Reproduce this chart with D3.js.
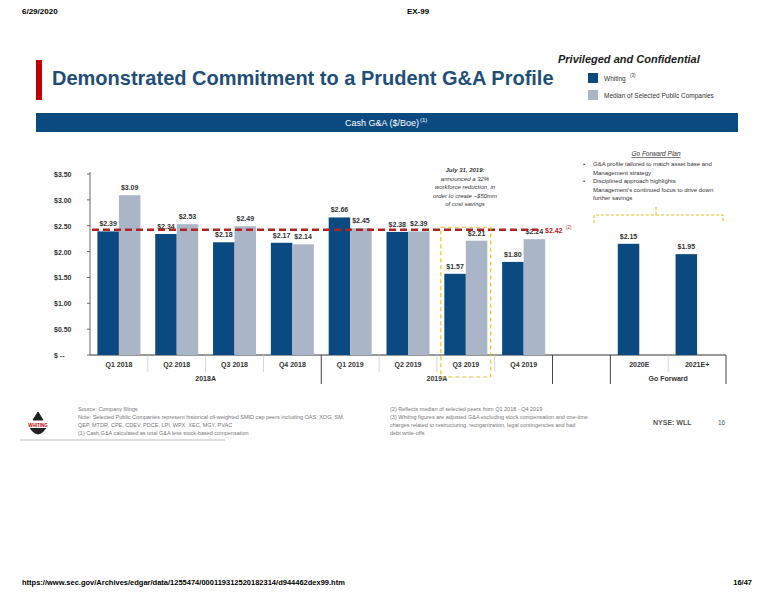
<!DOCTYPE html>
<html><head><meta charset="utf-8">
<script src="https://cdn.jsdelivr.net/npm/d3@7/dist/d3.min.js"></script>
<style>body{margin:0;background:#fff;font-family:Arial,"Liberation Sans",sans-serif}</style>
</head><body><svg id="c" width="776" height="600"></svg>
<script>
const categories=["Q1 2018","Q2 2018","Q3 2018","Q4 2018","Q1 2019","Q2 2019","Q3 2019","Q4 2019","","2020E","2021E+"];
const whiting=[2.39,2.34,2.18,2.17,2.66,2.38,1.57,1.80,null,2.15,1.95];
const peers=[3.09,2.53,2.49,2.14,2.45,2.39,2.21,2.24,null,null,null];
const whitingLabels=["$2.39","$2.34","$2.18","$2.17","$2.66","$2.38","$1.57","$1.80","","$2.15","$1.95"];
const yTicks=[0,0.5,1,1.5,2,2.5,3,3.5];
const yTickLabels=["$ --","$0.50","$1.00","$1.50","$2.00","$2.50","$3.00","$3.50"];
const median=2.42;
const groups=[{name:"2018A",from:0,to:3},{name:"2019A",from:4,to:7},{name:"Go Forward",from:9,to:10}];

const svg=d3.select("#c");
const navy="#0b4a80", grey="#aab6c8", red="#b22222";
const t=(x,y,s,o={})=>{const e=svg.append("text").attr("x",x).attr("y",y).text(s)
 .attr("font-size",o.fs||7).attr("fill",o.fill||"#333").attr("font-weight",o.fw||"normal")
 .attr("font-style",o.fi||"normal").attr("text-anchor",o.a||"start");return e;};

t(22,14,"6/29/2020",{fs:8,fw:"bold",fill:"#000"});
t(418,14,"EX-99",{fs:8,fw:"bold",fill:"#000",a:"middle"});
svg.append("rect").attr("x",36).attr("y",60).attr("width",6).attr("height",40).attr("fill","#c00000");
t(52,85,"Demonstrated Commitment to a Prudent G&A Profile",{fs:20,fw:"bold",fill:"#1f4e79"});
t(558,63,"Privileged and Confidential",{fs:11,fw:"bold",fi:"italic",fill:"#222"});
svg.append("rect").attr("x",588).attr("y",73).attr("width",10).attr("height",10).attr("fill",navy);
svg.append("rect").attr("x",588).attr("y",90).attr("width",10).attr("height",10).attr("fill",grey);
t(604,81,"Whiting",{fs:6.5});t(630,77,"(3)",{fs:4.5});
t(604,98,"Median of Selected Public Companies",{fs:6.5});
svg.append("rect").attr("x",36).attr("y",113).attr("width",702).attr("height",19).attr("fill","#0b4a80");
t(345,126,"Cash G&A ($/Boe)",{fs:9,fill:"#fff"});t(420,122,"(1)",{fs:6,fill:"#fff"});

const x=d3.scaleBand().domain(categories.map((c,i)=>i)).range([90,726]);
const y=d3.scaleLinear().domain([0,3.5]).range([355,174]);
const bw=21.5;
svg.append("line").attr("x1",90).attr("x2",90).attr("y1",172).attr("y2",355).attr("stroke","#444").attr("stroke-width",0.8);
yTicks.forEach((v,i)=>{
 svg.append("line").attr("x1",87).attr("x2",90).attr("y1",y(v)).attr("y2",y(v)).attr("stroke","#444").attr("stroke-width",0.8);
 t(54,y(v)+3,yTickLabels[i],{fs:7,fw:"bold"});
});
svg.append("line").attr("x1",90).attr("x2",726).attr("y1",355).attr("y2",355).attr("stroke","#333").attr("stroke-width",1);

categories.forEach((c,i)=>{
 const x0=x(i)+(x.bandwidth()/2)-bw;
 if(whiting[i]!=null){
  svg.append("rect").attr("x",x0).attr("y",y(whiting[i])).attr("width",bw).attr("height",y(0)-y(whiting[i])).attr("fill",navy);
  t(x0+bw/2,y(whiting[i])-5,whitingLabels[i],{fs:7,fw:"bold",a:"middle"});
 }
 if(peers[i]!=null){
  svg.append("rect").attr("x",x0+bw).attr("y",y(peers[i])).attr("width",bw).attr("height",y(0)-y(peers[i])).attr("fill",grey);
  t(x0+bw*1.5,y(peers[i])-5,"$"+peers[i].toFixed(2),{fs:7,fw:"bold",a:"middle"});
 }
 if(c) t(x(i)+x.bandwidth()/2,367,c,{fs:7,fw:"bold",a:"middle"});
});
const gb=new Set([0,4,8,9,11]);
for(let i=1;i<=categories.length;i++){
 const xx=i<categories.length?x(i):726;
 svg.append("line").attr("x1",xx).attr("x2",xx).attr("y1",355).attr("y2",gb.has(i)?384:372).attr("stroke",gb.has(i)?"#444":"#ccc").attr("stroke-width",gb.has(i)?1:0.8);
}
groups.forEach(g=>{const cx=(x(g.from)+x(g.to)+x.bandwidth())/2;t(cx,381,g.name,{fs:7,fw:"bold",a:"middle"});});

svg.append("line").attr("x1",92).attr("x2",538).attr("y1",y(median)).attr("y2",y(median)).attr("stroke",red).attr("stroke-width",2.5).attr("stroke-dasharray","7,4");
t(545,y(median)+3,"$"+median.toFixed(2),{fs:7,fw:"bold",fill:red});t(566,y(median)-1,"(2)",{fs:4.5,fill:red});

svg.append("rect").attr("x",x(6)+4).attr("y",y(2.47)).attr("width",x.bandwidth()-8).attr("height",y(0)-y(2.47)+22).attr("fill","none").attr("stroke","#e8c22c").attr("stroke-width",1.2).attr("stroke-dasharray","4,3");
["July 31, 2019:","announced a 32%","workforce reduction, in","order to create ~$50mm","of cost savings"].forEach((s,i)=>t(465,172+i*8.5,s,{fs:6,fi:"italic",a:"middle",fw:i===0?"bold":"normal"}));

t(656,156,"Go Forward Plan",{fs:6.5,fi:"italic",a:"middle"}).attr("text-decoration","underline");
[["•","G&A profile tailored to match asset base and"],["","Management strategy"],["•","Disciplined approach highlights"],["","Management's continued focus to drive down"],["","further savings"]].forEach((s,i)=>{if(s[0])t(583,166+i*8.5,s[0],{fs:6});t(593,166+i*8.5,s[1],{fs:6});});
svg.append("path").attr("d","M594,223 V215 H723 V223 M656,215 V207").attr("fill","none").attr("stroke","#e8c22c").attr("stroke-width",1.2).attr("stroke-dasharray","3,2");

svg.append("line").attr("x1",20).attr("x2",225).attr("y1",440).attr("y2",440).attr("stroke","#bbb");
svg.append("path").attr("d","M38,412 L43,420 L33,420 Z M30,428 Q38,440 46,428").attr("fill","#222").attr("stroke","#222");
t(38,427,"WHITING",{fs:4.5,fw:"bold",fill:"#c00000",a:"middle"});
["Source: Company filings","Note: Selected Public Companies represent historical oil-weighted SMID cap peers including OAS, XOG, SM,","QEP, MTDR, CPE, CDEV, PDCE, LPI, WPX, XEC, MGY, PVAC","(1)   Cash G&A calculated as total G&A less stock-based compensation"].forEach((s,i)=>t(78,411+i*8,s,{fs:5.5,fill:"#777"}));
["(2)   Reflects median of selected peers from Q1 2018 - Q4 2019","(3)   Whiting figures are adjusted G&A excluding stock compensation and one-time","       charges related to restructuring, reorganization, legal contingencies and bad","       debt write-offs"].forEach((s,i)=>t(390,411+i*8,s,{fs:5.5,fill:"#777"}));
t(653,425,"NYSE: WLL",{fs:7,fw:"bold",fill:"#555"});
t(718,425,"16",{fs:6.5,fill:"#555"});
t(22,585,"https://www.sec.gov/Archives/edgar/data/1255474/000119312520182314/d944462dex99.htm",{fs:7.5,fw:"bold",fill:"#000"});
t(752,585,"16/47",{fs:7.5,fw:"bold",fill:"#000",a:"end"});
</script></body></html>
